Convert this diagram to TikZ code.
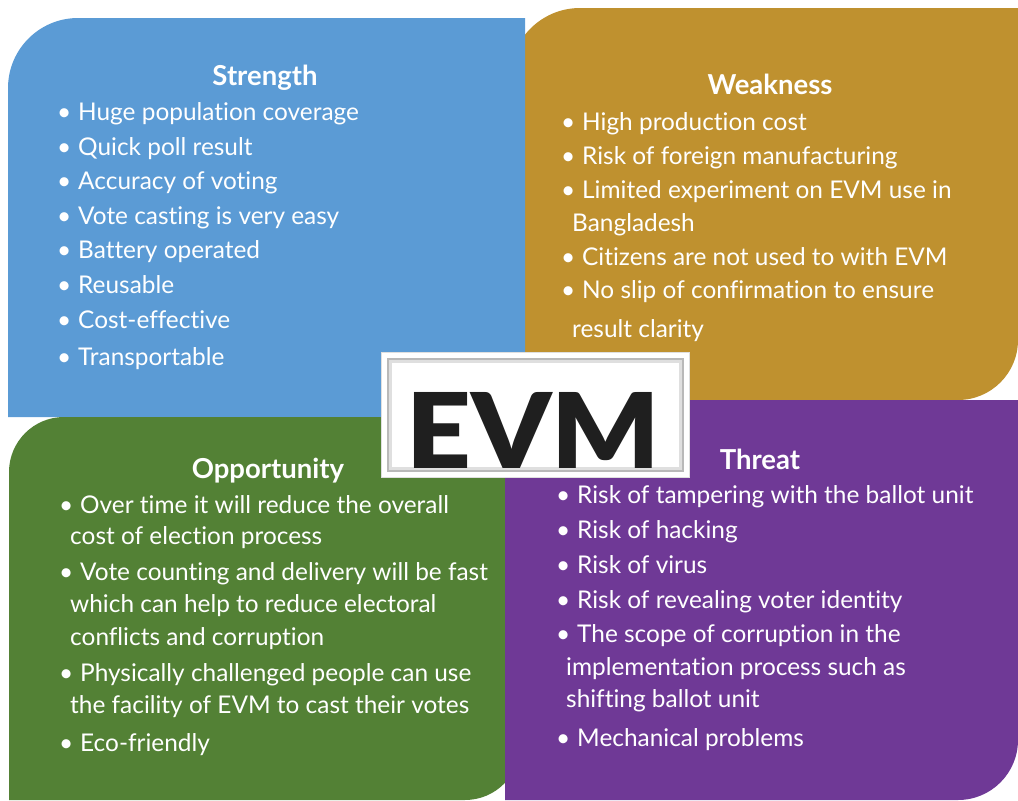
\documentclass[tikz,border=0pt]{standalone}
\usepackage{fontspec}
\setmainfont[Ligatures=NoCommon]{Lato}
\definecolor{cblue}{HTML}{5B9BD5}
\definecolor{cgold}{HTML}{BF912F}
\definecolor{cgreen}{HTML}{538135}
\definecolor{cpurple}{HTML}{6F3996}
\newcommand{\bul}{\makebox[21pt][l]{\textbullet}}
\tikzset{
  item/.style={anchor=base west, inner sep=0pt, text=white, font=\fontsize{24.4}{28}\selectfont},
  ttl/.style={anchor=base, inner sep=0pt, text=white, font=\fontsize{27.5}{31}\selectfont\bfseries},
}
\begin{document}
\begin{tikzpicture}[x=1pt,y=-1pt]
\useasboundingbox (0,0) rectangle (1018,801);
% quadrants
\fill[cgold] (510,78) .. controls (510,39.34) and (541.34,8) .. (580,8) -- (1018,8) -- (1018,340)
  .. controls (1018,373.14) and (991.14,400) .. (958,400) -- (510,400) -- cycle;
\fill[cblue] (8,417) -- (8,88) .. controls (8,49.34) and (39.34,18) .. (78,18) -- (525,18) -- (525,417) -- cycle;
\fill[cgreen] (9,800) -- (9,472) .. controls (9,441.6) and (33.6,417) .. (64,417) -- (520,417) -- (520,745)
  .. controls (520,775.4) and (495.4,800) .. (465,800) -- cycle;
\fill[cpurple] (505,400) -- (1018,400) -- (1018,740) .. controls (1018,773.14) and (991.14,800) .. (958,800) -- (505,800) -- cycle;
% EVM box
\fill[white, draw=gray!25, line width=0.6pt] (381,352) rectangle (689,477);
\fill[gray!55] (387,358) rectangle (684,472);
\fill[gray!25] (389,360) rectangle (682,470);
\fill[white] (392,363) rectangle (679,467);
\node[anchor=base west, inner sep=0pt, text={black!88}] (evm) at (406,468)
  {\resizebox{254pt}{76pt}{\fontspec{Lato Black}EVM}};
% Strength
\node[ttl] (s0) at (265,85) {Strength};
\node[item] (s1) at (57,120) {\bul Huge population coverage};
\node[item] (s2) at (57,155) {\bul Quick poll result};
\node[item] (s3) at (57,189) {\bul Accuracy of voting};
\node[item] (s4) at (57,224) {\bul Vote casting is very easy};
\node[item] (s5) at (57,258) {\bul Battery operated};
\node[item] (s6) at (57,293) {\bul Reusable};
\node[item] (s7) at (57,328) {\bul Cost-effective};
\node[item] (s8) at (57,365) {\bul Transportable};
% Weakness
\node[ttl] (w0) at (770,94) {Weakness};
\node[item] (w1) at (561,130) {\bul High production cost};
\node[item] (w2) at (561,164) {\bul Risk of foreign manufacturing};
\node[item] (w3) at (561,198) {\bul Limited experiment on EVM use in};
\node[item] (w3b) at (572,231) {Bangladesh};
\node[item] (w4) at (561,265) {\bul Citizens are not used to with EVM};
\node[item] (w5) at (561,298) {\bul No slip of confirmation to ensure};
\node[item] (w5b) at (572,337) {result clarity};
% Opportunity
\node[ttl] (o0) at (268,478) {Opportunity};
\node[item] (o1) at (59,513) {\bul Over time it will reduce the overall};
\node[item] (o1b) at (70,544) {cost of election process};
\node[item] (o2) at (59,580) {\bul Vote counting and delivery will be fast};
\node[item] (o2b) at (70,612) {which can help to reduce electoral};
\node[item] (o2c) at (70,645) {conflicts and corruption};
\node[item] (o3) at (59,681) {\bul Physically challenged people can use};
\node[item] (o3b) at (70,713) {the facility of EVM to cast their votes};
\node[item] (o4) at (59,751) {\bul Eco-friendly};
% Threat
\node[ttl] (t0) at (760,469) {Threat};
\node[item] (t1) at (556,503) {\bul Risk of tampering with the ballot unit};
\node[item] (t2) at (556,538) {\bul Risk of hacking};
\node[item] (t3) at (556,573) {\bul Risk of virus};
\node[item] (t4) at (556,608) {\bul Risk of revealing voter identity};
\node[item] (t5) at (556,642) {\bul The scope of corruption in the};
\node[item] (t5b) at (566,675) {implementation process such as};
\node[item] (t5c) at (566,707) {shifting ballot unit};
\node[item] (t6) at (556,746) {\bul Mechanical problems};
\end{tikzpicture}
\end{document}
